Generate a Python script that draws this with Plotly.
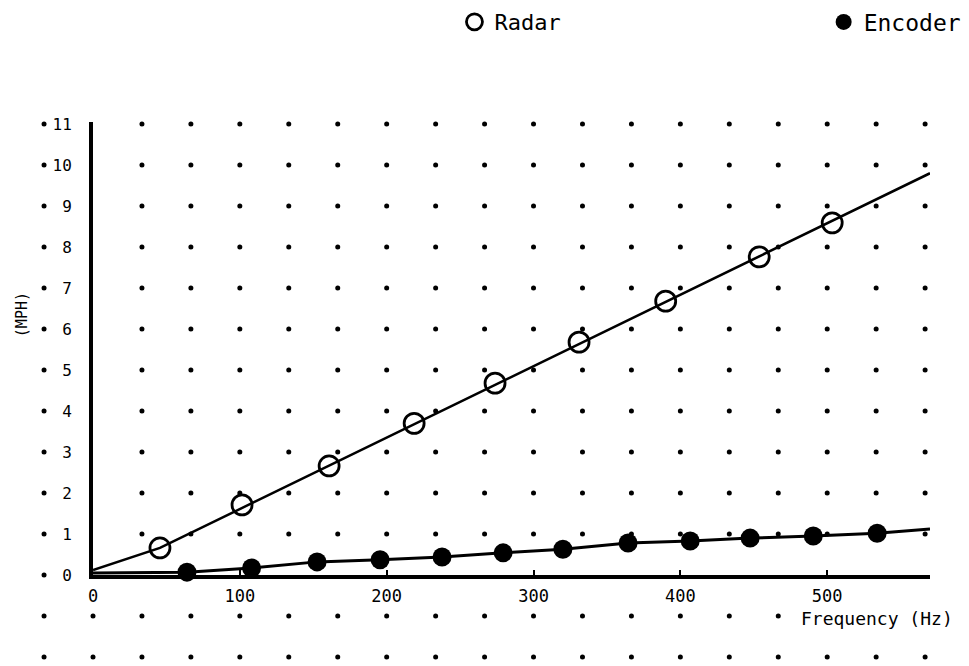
import plotly.graph_objects as go

# ---------------- data ----------------
# Radar readings (open circles): frequency (Hz) vs speed (MPH)
radar_freq = [45.6, 101.5, 160.8, 218.7, 273.8, 331.0, 390.0, 453.7, 503.4]
radar_speed = [0.66, 1.71, 2.66, 3.70, 4.68, 5.68, 6.68, 7.76, 8.59]
# Radar trace line (drawn through the readings to the end of the axis)
radar_line_freq = [0, 45.6, 570]
radar_line_speed = [0.12, 0.66, 9.8]

# Encoder readings (filled dots)
encoder_freq = [64, 108, 152.6, 195.5, 237.7, 279.3, 320, 364.4, 406.7, 447.5, 490.5, 534]
encoder_speed = [0.07, 0.17, 0.32, 0.37, 0.44, 0.54, 0.63, 0.78, 0.83, 0.90, 0.95, 1.02]
encoder_line_start = (0, 0.05)
encoder_line_end = (570, 1.12)

# Axis ticks
x_ticks = [0, 100, 200, 300, 400, 500]
y_ticks = [0, 1, 2, 3, 4, 5, 6, 7, 8, 9, 10, 11]

# Background dot-matrix grid positions
grid_cols = [-33.33, 0, 33.33, 66.67, 100, 133.33, 166.67, 200, 233.33, 266.67, 300,
             333.33, 366.67, 400, 433.33, 466.67, 500, 533.33, 566.67]
grid_rows = [-2, -1, 0, 1, 2, 3, 4, 5, 6, 7, 8, 9, 10, 11]

# ---------------- layout geometry ----------------
W, H = 969, 666
X_RANGE = [0, 570]
Y_RANGE = [0, 11.05]
# plot box (pixels): left 93, right 930, top 122, bottom 575
X_DOM = [93 / W, 930 / W]
Y_DOM = [1 - 575 / H, 1 - 122 / H]
px_per_x = (930 - 93) / (X_RANGE[1] - X_RANGE[0])
px_per_y = (575 - 122) / (Y_RANGE[1] - Y_RANGE[0])
# full-page axes sharing the same scale (for marks outside the box)
X2_RANGE = [X_RANGE[0] - 93 / px_per_x, X_RANGE[1] + (W - 930) / px_per_x]
Y2_RANGE = [Y_RANGE[0] - (H - 575) / px_per_y, Y_RANGE[1] + 122 / px_per_y]

# ---------------- build the figure ----------------
gx, gy = [], []
for r in grid_rows:
    for c in grid_cols:
        if c >= 0 and r == 0:
            continue            # hidden by x axis line
        if c == 0 and r > 0:
            continue            # hidden by y axis line
        if r == -1 and c >= 490:
            continue            # space taken by the axis title
        gx.append(c)
        gy.append(r)

MONO = "DejaVu Sans Mono, Liberation Mono, monospace"

fig = go.Figure()

fig.add_trace(go.Scatter(
    x=radar_line_freq, y=radar_line_speed, mode="lines", showlegend=False,
    line=dict(color="black", width=2.5), hoverinfo="skip"))

enc_lx = [encoder_line_start[0]] + encoder_freq + [encoder_line_end[0]]
enc_ly = [encoder_line_start[1]] + encoder_speed + [encoder_line_end[1]]
fig.add_trace(go.Scatter(
    x=enc_lx, y=enc_ly, mode="lines", showlegend=False,
    line=dict(color="black", width=3), hoverinfo="skip", cliponaxis=False))

fig.add_trace(go.Scatter(
    x=radar_freq, y=radar_speed, mode="markers", name="Radar", legend="legend",
    marker=dict(symbol="circle-open", size=20, color="black",
                line=dict(width=2.8, color="black")),
    cliponaxis=False))

fig.add_trace(go.Scatter(
    x=encoder_freq, y=encoder_speed, mode="markers", name="Encoder", legend="legend2",
    marker=dict(symbol="circle", size=19, color="black"),
    cliponaxis=False))

fig.add_trace(go.Scatter(
    x=gx, y=gy, xaxis="x2", yaxis="y2", mode="markers", showlegend=False,
    hoverinfo="skip", marker=dict(size=5, color="black")))

legend_style = dict(orientation="h", yanchor="middle", xanchor="left",
                    bgcolor="rgba(0,0,0,0)")

fig.update_layout(
    width=W, height=H,
    margin=dict(l=0, r=0, t=0, b=0, autoexpand=False),
    paper_bgcolor="white", plot_bgcolor="rgba(0,0,0,0)",
    showlegend=True,
    legend=dict(x=0.469, y=0.967, font=dict(family=MONO, size=22, color="black"),
                **legend_style),
    legend2=dict(x=0.85, y=0.967, font=dict(family=MONO, size=23, color="black"),
                 **legend_style),
    xaxis=dict(domain=X_DOM, range=X_RANGE, showgrid=False, zeroline=False,
               showline=True, linewidth=4, linecolor="black",
               tickmode="array", tickvals=x_ticks, ticktext=[str(v) for v in x_ticks],
               ticks="inside", ticklen=5, tickwidth=2, tickcolor="black",
               ticklabelstandoff=3,
               tickfont=dict(family=MONO, size=17, color="black")),
    yaxis=dict(domain=Y_DOM, range=Y_RANGE, showgrid=False, zeroline=False,
               showline=True, linewidth=4, linecolor="black",
               tickmode="array", tickvals=y_ticks, ticktext=[str(v) for v in y_ticks],
               ticks="", ticklabelstandoff=14,
               tickfont=dict(family=MONO, size=16, color="black")),
    xaxis2=dict(domain=[0, 1], range=X2_RANGE, visible=False, anchor="y2"),
    yaxis2=dict(domain=[0, 1], range=Y2_RANGE, visible=False, anchor="x2"),
    annotations=[
        dict(text="Frequency (Hz)", x=587, y=-1.06, xref="x2", yref="y2",
             xanchor="right", yanchor="middle", showarrow=False,
             font=dict(family=MONO, size=18, color="black")),
        dict(text="(MPH)", x=-48.3, y=6.34, xref="x2", yref="y2",
             xanchor="center", yanchor="middle", showarrow=False, textangle=-90,
             font=dict(family=MONO, size=15, color="black")),
    ],
)

fig.write_html("out.html")
